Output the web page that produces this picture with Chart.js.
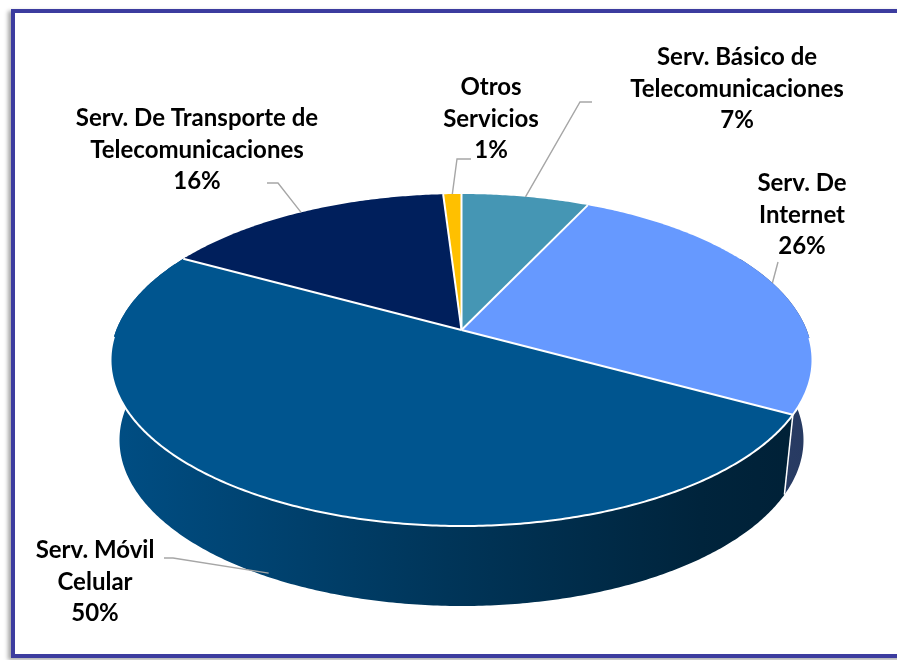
<!DOCTYPE html>
<html>
<head>
<meta charset="utf-8">
<script src="https://cdn.jsdelivr.net/npm/chart.js@4.4.0/dist/chart.umd.min.js"></script>
<style>
    body { margin: 0; background: #fff; overflow: hidden; }
    #wrap { position: relative; width: 897px; height: 660px; overflow: hidden; }
    #frame {
        position: absolute; left: 11px; top: 9px; width: 900px; height: 641px;
        border: 4px solid #3c3c9f;
        box-shadow: -3px 2px 4px rgba(0, 0, 0, 0.35);
    }
    canvas { position: absolute; left: 0; top: 0; }
</style>
</head>
<body>
<div id="wrap">
    <div id="frame"></div>
    <canvas id="pieChart" width="897" height="660"></canvas>
</div>
<script>
// chart data (clockwise from 12 o'clock)
const categories = [
    ['Serv. Básico de', 'Telecomunicaciones'],
    ['Serv. De', 'Internet'],
    ['Serv. Móvil', 'Celular'],
    ['Serv. De Transporte de', 'Telecomunicaciones'],
    ['Otros', 'Servicios']
];
const shares = [7, 26, 50, 16, 1];
const percentLabels = ['7%', '26%', '50%', '16%', '1%'];
const sliceColors = ['#4596B4', '#6699FF', '#00558F', '#001F5C', '#FFC000'];

// label layout: text centre x, first baseline y, leader line points next to the label
const labelLayout = [
    { x: 737, y: 65, leader: [[592, 102], [580, 102]], anchorDepth: 0 },
    { x: 802, y: 191, leader: [[778, 262]], anchorDepth: 0 },
    { x: 95, y: 558, leader: [[164, 558], [173, 558]], anchorDepth: 0.95 },
    { x: 197, y: 126, leader: [[267, 183], [278, 183]], anchorDepth: 0 },
    { x: 491, y: 95, leader: [[471, 159], [457, 159]], anchorDepth: 0 }
];

// 3D look: projected ellipse of the top face, perspective shift, depth
const geo = { cx: 461.5, cy: 360, rx: 351, ry: 166, beta: -0.181, depth: 80, rxBottom: 342 };
const sideRange = [-0.5, 3.66];

function project(theta, level) {
    const u = Math.cos(theta), v = Math.sin(theta);
    const d = 1 + geo.beta * v;
    const px = u * Math.sqrt(1 - geo.beta * geo.beta) / d;
    const py = (v + geo.beta) / d;
    const top = { x: geo.cx + geo.rx * px, y: geo.cy + geo.ry * py };
    const bot = { x: geo.cx + geo.rxBottom * px, y: geo.cy + geo.depth + geo.ry * py };
    return { x: top.x + (bot.x - top.x) * level, y: top.y + (bot.y - top.y) * level };
}

function projectCenter() {
    return { x: geo.cx, y: geo.cy + geo.ry * geo.beta };
}

function shade(hex, f) {
    const n = parseInt(hex.slice(1), 16);
    const r = Math.round(((n >> 16) & 255) * f);
    const g = Math.round(((n >> 8) & 255) * f);
    const b = Math.round((n & 255) * f);
    return `rgb(${r},${g},${b})`;
}

function rimPath(ctx, a1, a2, level, first) {
    const steps = Math.max(2, Math.ceil(Math.abs(a2 - a1) / 0.01));
    for (let i = 0; i <= steps; i++) {
        const p = project(a1 + (a2 - a1) * i / steps, level);
        if (i === 0 && first) ctx.moveTo(p.x, p.y); else ctx.lineTo(p.x, p.y);
    }
}

const pie3d = {
    id: 'pie3d',
    beforeDatasetsDraw() {
        return false;  // we draw the slices ourselves below
    },
    afterDraw(chart) {
        const ctx = chart.ctx;
        const arcs = chart.getDatasetMeta(0).data;
        const colors = chart.data.datasets[0].backgroundColor;
        ctx.save();

        // sides
        arcs.forEach((arc, i) => {
            const s = Math.max(arc.startAngle, sideRange[0]);
            const e = Math.min(arc.endAngle, sideRange[1]);
            if (e <= s) return;
            const grad = ctx.createLinearGradient(110, 0, 813, 0);
            grad.addColorStop(0, shade(colors[i], 0.92));
            grad.addColorStop(0.48, shade(colors[i], 0.62));
            grad.addColorStop(0.84, shade(colors[i], 0.42));
            grad.addColorStop(1, shade(colors[i], 0.38));
            ctx.beginPath();
            rimPath(ctx, s, e, 0, true);
            rimPath(ctx, e, s, 1, false);
            ctx.closePath();
            ctx.fillStyle = grad;
            ctx.fill();
        });
        ctx.strokeStyle = '#ffffff';
        ctx.lineWidth = 1.5;
        arcs.forEach(arc => {
            const a = arc.endAngle;
            if (a > sideRange[0] + 0.05 && a < sideRange[1] - 0.6) {
                const p1 = project(a, 0), p2 = project(a, 1);
                ctx.beginPath();
                ctx.moveTo(p1.x, p1.y);
                ctx.lineTo(p2.x, p2.y);
                ctx.stroke();
            }
        });

        // top faces
        const c = projectCenter();
        arcs.forEach((arc, i) => {
            ctx.beginPath();
            ctx.moveTo(c.x, c.y);
            rimPath(ctx, arc.startAngle, arc.endAngle, 0, false);
            ctx.closePath();
            ctx.fillStyle = colors[i];
            ctx.fill();
        });
        ctx.lineWidth = 2;
        ctx.strokeStyle = '#ffffff';
        arcs.forEach(arc => {
            const p = project(arc.startAngle, 0);
            ctx.beginPath();
            ctx.moveTo(c.x, c.y);
            ctx.lineTo(p.x, p.y);
            ctx.stroke();
        });
        ctx.beginPath();
        rimPath(ctx, 0.05, 3.1, 0, true);
        ctx.stroke();

        // leader lines
        ctx.strokeStyle = '#a6a6a6';
        ctx.lineWidth = 1.4;
        arcs.forEach((arc, i) => {
            const lay = labelLayout[i];
            const mid = (arc.startAngle + arc.endAngle) / 2;
            const a = project(mid, lay.anchorDepth);
            ctx.beginPath();
            ctx.moveTo(lay.leader[0][0], lay.leader[0][1]);
            lay.leader.slice(1).forEach(pt => ctx.lineTo(pt[0], pt[1]));
            ctx.lineTo(a.x, a.y);
            ctx.stroke();
        });

        // labels
        ctx.fillStyle = '#000000';
        ctx.font = 'bold 24px Lato';
        ctx.textAlign = 'center';
        ctx.textBaseline = 'alphabetic';
        chart.data.labels.forEach((lines, i) => {
            const lay = labelLayout[i];
            const all = lines.concat([percentLabels[i]]);
            all.forEach((t, k) => ctx.fillText(t, lay.x, lay.y + k * 31.7));
        });
        ctx.restore();
    }
};

new Chart(document.getElementById('pieChart'), {
    type: 'pie',
    data: {
        labels: categories,
        datasets: [{
            data: shares,
            backgroundColor: sliceColors,
            borderColor: '#ffffff',
            borderWidth: 2
        }]
    },
    options: {
        responsive: false,
        animation: false,
        plugins: {
            legend: { display: false },
            tooltip: { enabled: false }
        }
    },
    plugins: [pie3d]
});
</script>
</body>
</html>
